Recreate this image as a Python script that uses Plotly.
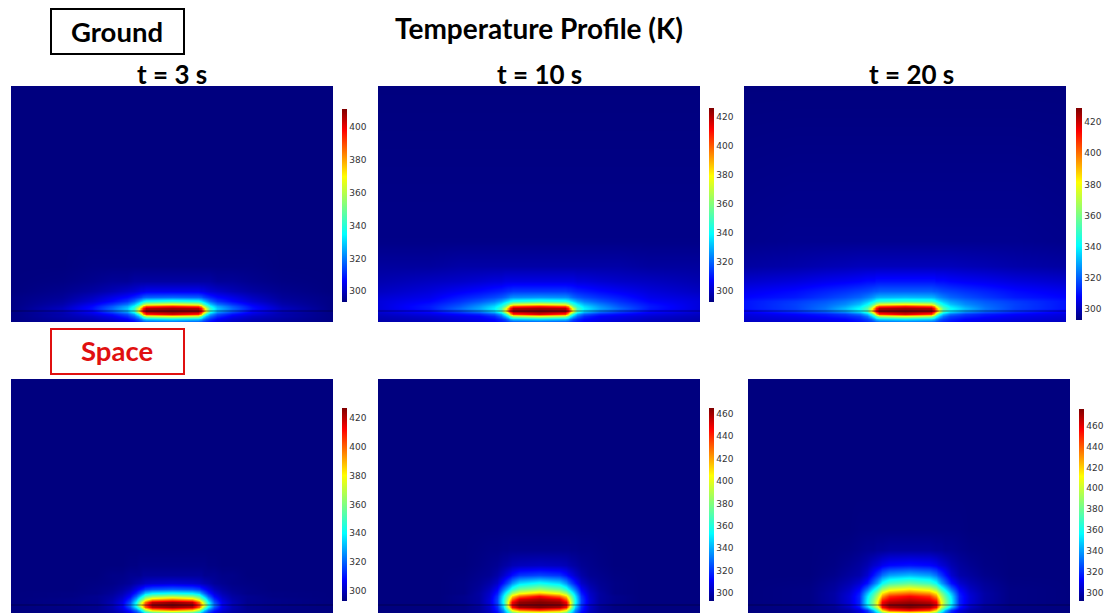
import numpy as np
import plotly.graph_objects as go

W, H = 1116, 613

# grid coordinates of the field tables: half-width offsets and heights above the interface
X_G = [0, 26, 29, 31, 34, 38, 45, 60, 80, 110, 161]
Y_G = [-11, -8, -5, -3, 0, 3, 5, 7, 10, 14, 20, 30, 45, 70, 225]
X_S = [0, 20, 27, 29, 32, 36, 42, 50, 60, 75, 100, 161]
Y_S = [-8, -5, -2, 0, 3, 6, 9, 12, 16, 22, 30, 40, 55, 75, 110, 226]

# Temperature (K), one row per Y value, one column per X value (mirrored about x = 0)
T_GROUND_3 = [
    [316, 314, 313, 311, 309, 306, 303, 300, 298, 296, 294],
    [332, 329, 325, 320, 315, 311, 306, 302, 299, 297, 294],
    [368, 360, 348, 336, 326, 318, 311, 305, 301, 298, 294],
    [402, 395, 380, 358, 338, 325, 315, 308, 303, 298, 294],
    [411, 410, 402, 390, 368, 342, 326, 316, 306, 299, 294],
    [408, 406, 396, 382, 362, 342, 328, 318, 308, 300, 294],
    [395, 390, 380, 365, 350, 336, 325, 316, 307, 299, 294],
    [368, 362, 355, 346, 337, 328, 319, 312, 305, 298, 294],
    [340, 337, 333, 329, 324, 318, 312, 307, 302, 297, 294],
    [318, 317, 316, 314, 312, 310, 307, 304, 300, 296, 294],
    [305, 305, 304, 304, 303, 302, 301, 299, 297, 295, 293.5],
    [297, 297, 297, 297, 297, 297, 296, 296, 295, 294, 293.5],
    [294, 294, 294, 294, 294, 294, 294, 294, 294, 293.5, 293.5],
    [293.5, 293.5, 293.5, 293.5, 293.5, 293.5, 293.5, 293.5, 293.5, 293.5, 293.5],
    [293.5, 293.5, 293.5, 293.5, 293.5, 293.5, 293.5, 293.5, 293.5, 293.5, 293.5],
]
T_GROUND_10 = [
    [316, 315, 314, 313, 311, 309, 306, 303, 301, 299, 297],
    [335, 332, 328, 322, 316, 312, 308, 305, 303, 300, 298],
    [375, 365, 352, 340, 330, 320, 312, 307, 305, 302, 299],
    [415, 405, 385, 362, 342, 328, 318, 311, 308, 304, 300],
    [426, 424, 414, 400, 378, 350, 335, 324, 316, 308, 302],
    [422, 420, 408, 392, 372, 350, 338, 328, 320, 310, 303],
    [408, 402, 392, 375, 356, 344, 335, 326, 318, 310, 303],
    [378, 372, 364, 354, 346, 338, 330, 323, 316, 309, 303],
    [346, 343, 340, 337, 333, 328, 323, 318, 313, 307, 303],
    [326, 325, 324, 322, 320, 318, 316, 313, 310, 305, 302],
    [314, 314, 313, 313, 312, 311, 310, 308, 306, 303, 300],
    [304, 304, 304, 304, 304, 303, 303, 302, 301, 300, 298],
    [297, 297, 297, 297, 297, 297, 297, 297, 297, 296, 296],
    [293.5, 293.5, 293.5, 293.5, 293.5, 293.5, 293.5, 293.5, 293.5, 293.5, 293.5],
    [292.5, 292.5, 292.5, 292.5, 292.5, 292.5, 292.5, 292.5, 292.5, 292.5, 292.5],
]
T_GROUND_20 = [
    [320, 319, 318, 316, 314, 312, 309, 306, 304, 302, 300],
    [338, 335, 331, 326, 320, 316, 312, 308, 306, 304, 302],
    [378, 368, 355, 343, 333, 323, 316, 312, 309, 306, 303],
    [418, 408, 388, 365, 345, 332, 322, 315, 311, 308, 304],
    [429, 427, 417, 403, 381, 353, 340, 329, 321, 314, 307],
    [425, 423, 411, 395, 375, 354, 342, 332, 323, 316, 310],
    [411, 405, 395, 378, 360, 348, 338, 329, 322, 316, 310],
    [382, 376, 368, 358, 349, 341, 333, 326, 321, 316, 310],
    [350, 348, 345, 341, 337, 333, 328, 323, 319, 315, 310],
    [332, 331, 330, 328, 326, 324, 321, 318, 315, 311, 308],
    [320, 320, 319, 319, 318, 317, 316, 314, 312, 309, 306],
    [310, 310, 310, 309, 309, 309, 308, 307, 306, 304, 302],
    [300, 300, 300, 300, 300, 300, 300, 299.5, 299, 298, 297],
    [295, 295, 295, 295, 295, 295, 295, 295, 295, 295, 294.5],
    [293, 293, 293, 293, 293, 293, 293, 293, 293, 293, 293],
]
T_SPACE_3 = [
    [350, 345, 335, 328, 320, 313, 306, 300, 297, 295, 293.5, 293],
    [395, 385, 365, 350, 335, 322, 311, 303, 298, 295, 293.5, 293],
    [425, 420, 400, 385, 360, 338, 318, 305, 299, 295, 294, 293],
    [427, 424, 405, 392, 378, 345, 322, 306, 299, 295, 294, 293],
    [425, 420, 398, 385, 365, 340, 318, 305, 299, 295, 294, 293],
    [395, 388, 372, 360, 348, 330, 313, 303, 298, 295, 294, 293],
    [368, 362, 352, 343, 333, 320, 308, 301, 297, 295, 293.5, 293],
    [342, 339, 333, 327, 320, 312, 304, 299, 296, 294, 293.5, 293],
    [320, 318, 315, 312, 309, 305, 300, 297, 295, 294, 293, 293],
    [303, 302, 301, 300, 299, 298, 296, 295, 294, 293.5, 293, 293],
    [296, 296, 296, 296, 295, 295, 295, 294, 294, 293, 293, 293],
    [294, 294, 294, 294, 294, 293.5, 293.5, 293, 293, 293, 293, 293],
    [293, 293, 293, 293, 293, 293, 293, 293, 293, 293, 293, 293],
    [293, 293, 293, 293, 293, 293, 293, 293, 293, 293, 293, 293],
    [293, 293, 293, 293, 293, 293, 293, 293, 293, 293, 293, 293],
    [293, 293, 293, 293, 293, 293, 293, 293, 293, 293, 293, 293],
]
T_SPACE_10 = [
    [385, 380, 368, 358, 345, 328, 312, 302, 297, 294, 293, 293],
    [435, 425, 405, 385, 360, 335, 316, 303, 297, 294, 293, 293],
    [465, 460, 445, 420, 385, 345, 318, 304, 297, 294, 293, 293],
    [465, 463, 450, 430, 395, 350, 320, 305, 298, 294, 293, 293],
    [465, 462, 448, 428, 392, 355, 322, 306, 298, 295, 293, 293],
    [458, 452, 430, 412, 385, 354, 322, 306, 298, 295, 293, 293],
    [446, 430, 412, 396, 375, 350, 320, 305, 298, 295, 293, 293],
    [415, 402, 386, 375, 360, 342, 316, 304, 298, 294, 293, 293],
    [385, 375, 360, 352, 342, 330, 311, 302, 297, 294, 293, 293],
    [356, 348, 336, 330, 323, 315, 304, 299, 296, 294, 293, 293],
    [323, 320, 314, 311, 308, 304, 299, 296, 295, 293.5, 293, 293],
    [303, 302, 301, 300, 299, 298, 296, 295, 294, 293, 293, 293],
    [295, 295, 295, 295, 294.5, 294.5, 294, 294, 293.5, 293, 293, 293],
    [293, 293, 293, 293, 293, 293, 293, 293, 293, 293, 293, 293],
    [293, 293, 293, 293, 293, 293, 293, 293, 293, 293, 293, 293],
    [293, 293, 293, 293, 293, 293, 293, 293, 293, 293, 293, 293],
]
T_SPACE_20 = [
    [400, 392, 375, 360, 345, 330, 316, 305, 298, 294, 292, 292],
    [455, 445, 418, 395, 370, 345, 322, 307, 299, 295, 292.5, 292],
    [476, 470, 455, 430, 400, 375, 345, 315, 303, 296, 293, 292],
    [476, 473, 460, 440, 412, 385, 354, 318, 305, 297, 293, 292],
    [472, 468, 458, 436, 410, 385, 356, 318, 306, 298, 293, 292],
    [464, 458, 445, 426, 404, 382, 355, 318, 306, 298, 293, 292],
    [456, 448, 430, 414, 396, 376, 352, 318, 306, 298, 293, 292],
    [438, 430, 415, 402, 385, 368, 345, 316, 305, 298, 293, 292],
    [414, 405, 390, 380, 366, 352, 332, 312, 303, 297, 293, 292],
    [378, 370, 358, 350, 340, 330, 315, 305, 300, 296, 292.5, 292],
    [345, 340, 332, 327, 322, 315, 305, 299, 297, 294, 292, 292],
    [315, 313, 310, 308, 306, 304, 300, 297, 295, 293, 292, 292],
    [297, 297, 296, 296, 296, 295, 295, 294, 293, 292.5, 292, 292],
    [292.5, 292.5, 292.5, 292.5, 292.5, 292.5, 292.5, 292.5, 292, 292, 292, 292],
    [292, 292, 292, 292, 292, 292, 292, 292, 292, 292, 292, 292],
    [292, 292, 292, 292, 292, 292, 292, 292, 292, 292, 292, 292],
]

# colour-bar limits and tick values per panel
ZMIN = [293.5, 292.5, 293, 293, 293, 292]
ZMAX = [411, 426, 429, 427, 465, 476]
TICKS = [
    [300, 320, 340, 360, 380, 400],
    [300, 320, 340, 360, 380, 400, 420],
    [300, 320, 340, 360, 380, 400, 420],
    [300, 320, 340, 360, 380, 400, 420],
    [300, 320, 340, 360, 380, 400, 420, 440, 460],
    [300, 320, 340, 360, 380, 400, 420, 440, 460],
]
TABLES = [T_GROUND_3, T_GROUND_10, T_GROUND_20, T_SPACE_3, T_SPACE_10, T_SPACE_20]
TIME_LABELS = ["t = 3 s", "t = 10 s", "t = 20 s"]

# layout in pixels: left, right, top, bottom of panel; colour bar left, right, top, bottom
PANEL_BOX = [
    (11, 333, 86, 322), (378, 700, 86, 322), (744, 1066, 86, 322),
    (11, 333, 379, 613), (378, 700, 379, 613), (748, 1070, 379, 613),
]
CBAR_BOX = [
    (342, 347, 109, 302), (709, 714, 108, 302), (1076, 1082, 108, 320),
    (342, 347, 408, 601), (709, 714, 408, 601), (1079, 1084, 409, 601),
]
JET = [
    [0.0, "#00007f"], [0.11, "#0000ff"], [0.35, "#00ffff"], [0.5, "#7fff7f"],
    [0.65, "#ffff00"], [0.89, "#ff0000"], [1.0, "#7f0000"],
]

fig = go.Figure()
shapes = []
for i, table in enumerate(TABLES):
    left, right, top, bottom = PANEL_BOX[i]
    c_l, c_r, c_t, c_b = CBAR_BOX[i]
    half_x = X_G if i < 3 else X_S
    ys = Y_G if i < 3 else Y_S
    arr = np.array(table, dtype=float)
    xs = [-v for v in half_x[:0:-1]] + half_x
    z = np.hstack([arr[:, :0:-1], arr])
    name = "" if i == 0 else str(i + 1)
    fig.add_trace(go.Heatmap(
        x=xs, y=ys, z=z, zmin=ZMIN[i], zmax=ZMAX[i], zsmooth="best",
        colorscale=JET, xaxis=f"x{name}", yaxis=f"y{name}", hoverinfo="skip",
        colorbar=dict(
            x=c_l / W, xanchor="left", xref="paper",
            y=(H - c_b) / H, yanchor="bottom", yref="paper",
            len=c_b - c_t, lenmode="pixels", thickness=c_r - c_l, thicknessmode="pixels",
            xpad=0, ypad=0, outlinewidth=0, borderwidth=0,
            ticks="", tickmode="array", tickvals=TICKS[i],
            tickfont=dict(family="DejaVu Sans", size=9, color="#333333"),
        ),
    ))
    fig.update_layout({
        f"xaxis{name}": dict(domain=[left / W, right / W], range=[-161, 161], visible=False,
                             anchor=f"y{name}"),
        f"yaxis{name}": dict(domain=[(H - bottom) / H, (H - top) / H],
                             range=[ys[0], ys[-1]], visible=False, anchor=f"x{name}"),
    })
    shapes.append(dict(type="line", xref=f"x{name}", yref=f"y{name}",
                       x0=-161, x1=161, y0=0, y1=0,
                       line=dict(color="rgba(0,0,40,0.5)", width=1)))

px = lambda v: v / W
py = lambda v: (H - v) / H
shapes.append(dict(type="rect", xref="paper", yref="paper", x0=px(51), x1=px(184),
                   y0=py(9), y1=py(54), line=dict(color="black", width=2)))
shapes.append(dict(type="rect", xref="paper", yref="paper", x0=px(51), x1=px(184),
                   y0=py(329), y1=py(374), line=dict(color="#e01010", width=2)))

TITLE_FONT = "Lato"
def label(text, cx, cy, size, color="black"):
    return dict(text=f"<b>{text}</b>", x=px(cx), y=py(cy), xref="paper", yref="paper",
                xanchor="center", yanchor="middle", showarrow=False,
                font=dict(family=TITLE_FONT, size=size, color=color))

annotations = [
    label("Temperature Profile (K)", 539, 28, 28),
    label("Ground", 117, 32, 27.5),
    label("Space", 117, 351, 27.5, "#e01010"),
    label(TIME_LABELS[0], 172, 74, 26),
    label(TIME_LABELS[1], 539, 74, 26),
    label(TIME_LABELS[2], 911, 74, 26),
]

fig.update_layout(width=W, height=H, margin=dict(l=0, r=0, t=0, b=0),
                  paper_bgcolor="white", plot_bgcolor="white",
                  shapes=shapes, annotations=annotations, showlegend=False)
fig.write_html("out.html", config=dict(displayModeBar=False),
               post_script="document.body.style.margin='0';document.body.style.overflow='hidden';")
